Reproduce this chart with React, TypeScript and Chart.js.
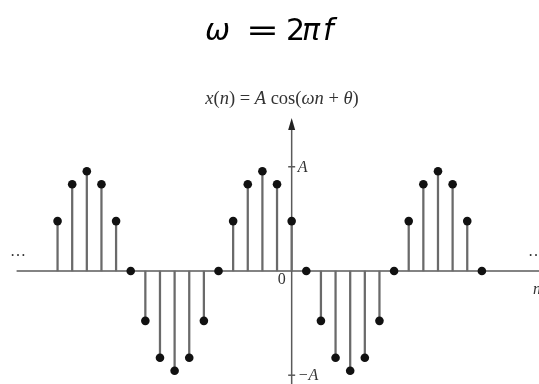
import React, { useEffect, useRef } from "react";
import { Chart, registerables } from "chart.js";

Chart.register(...registerables);

// sample index n
const samples = [-16, -15, -14, -13, -12, -11, -10, -9, -8, -7, -6, -5, -4, -3, -2, -1, 0, 1, 2, 3, 4, 5, 6, 7, 8, 9, 10, 11, 12, 13];
// x(n) / A
const values = [0.5, 0.87, 1, 0.87, 0.5, 0, -0.5, -0.87, -1, -0.87, -0.5, 0, 0.5, 0.87, 1, 0.87, 0.5, 0, -0.5, -0.87, -1, -0.87, -0.5, 0, 0.5, 0.87, 1, 0.87, 0.5, 0];
// amplitude tick labels
const tickValues = [1.045, -1.045];
const tickLabels = ["A", "\u2212A"];
const originLabel = "0";
const axisLabel = "n";
const ellipsis = "\u2026";
const formulaPieces: [string, boolean][] = [
  ["x", true], ["(", false], ["n", true], [") = ", false], ["A", true], [" cos(", false],
  ["\u03c9", true], ["n", true], [" + ", false], ["\u03b8", true], [")", false],
];

const W = 539;
const H = 384;

function drawPieces(ctx: CanvasRenderingContext2D, pieces: [string, boolean][], family: string, size: number, cx: number, baseline: number) {
  const fontFor = (it: boolean) => `${it ? "italic " : ""}${size}px ${family}`;
  let total = 0;
  for (const [t, it] of pieces) {
    ctx.font = fontFor(it);
    total += ctx.measureText(t).width;
  }
  let x = cx - total / 2;
  ctx.textAlign = "left";
  ctx.textBaseline = "alphabetic";
  for (const [t, it] of pieces) {
    ctx.font = fontFor(it);
    ctx.fillText(t, x, baseline);
    x += ctx.measureText(t).width;
  }
}

function drawTitle(ctx: CanvasRenderingContext2D) {
  const fam = "'DejaVu Sans'";
  const size = 30;
  const base = 40;
  ctx.save();
  ctx.fillStyle = "#000";
  ctx.textAlign = "left";
  ctx.textBaseline = "alphabetic";
  ctx.font = `italic ${size}px ${fam}`;
  ctx.fillText("\u03c9", 205, base);
  // wide equals sign
  ctx.font = `${size}px ${fam}`;
  const ew = ctx.measureText("=").width;
  ctx.save();
  ctx.translate(246, base);
  ctx.scale(33 / ew, 1);
  ctx.fillText("=", 0, 0);
  ctx.restore();
  ctx.fillText("2", 286, base);
  ctx.font = `italic ${size}px ${fam}`;
  ctx.fillText("\u03c0", 302, base);
  ctx.fillText("f", 323, base);
  ctx.restore();
}

const stemPlugin = {
  id: "stemAxes",
  beforeDatasetsDraw(chart: any) {
    const ctx: CanvasRenderingContext2D = chart.ctx;
    const xs = chart.scales.x;
    const ys = chart.scales.y;
    const x0 = xs.getPixelForValue(0);
    const y0 = ys.getPixelForValue(0);
    ctx.save();
    ctx.strokeStyle = "#5a5a5a";
    ctx.lineWidth = 1.5;
    // horizontal axis
    ctx.beginPath();
    ctx.moveTo(xs.getPixelForValue(-18.8), y0);
    ctx.lineTo(W, y0);
    ctx.stroke();
    // vertical axis
    const tipY = ys.getPixelForValue(1.535);
    ctx.beginPath();
    ctx.moveTo(x0, H);
    ctx.lineTo(x0, tipY + 8);
    ctx.stroke();
    ctx.fillStyle = "#222";
    ctx.beginPath();
    ctx.moveTo(x0, tipY);
    ctx.lineTo(x0 - 3.5, tipY + 12);
    ctx.lineTo(x0 + 3.5, tipY + 12);
    ctx.closePath();
    ctx.fill();
    // ticks
    for (const v of tickValues) {
      const ty = ys.getPixelForValue(v);
      ctx.beginPath();
      ctx.moveTo(x0 - 3.5, ty);
      ctx.lineTo(x0 + 3.5, ty);
      ctx.stroke();
    }
    ctx.restore();
  },
  afterDraw(chart: any) {
    const ctx: CanvasRenderingContext2D = chart.ctx;
    const xs = chart.scales.x;
    const ys = chart.scales.y;
    const x0 = xs.getPixelForValue(0);
    const y0 = ys.getPixelForValue(0);
    drawTitle(ctx);
    ctx.save();
    // formula
    ctx.fillStyle = "#333";
    drawPieces(ctx, formulaPieces, "'Liberation Serif'", 18.5, 282, 104);
    // tick labels
    ctx.textBaseline = "middle";
    ctx.textAlign = "left";
    ctx.font = "italic 16px 'Liberation Serif'";
    tickLabels.forEach((lab, i) => {
      const ty = ys.getPixelForValue(tickValues[i]);
      ctx.fillText(lab, x0 + 6, ty + 1);
    });
    // origin
    ctx.font = "16px 'Liberation Serif'";
    ctx.textAlign = "center";
    ctx.fillText(originLabel, x0 - 10, y0 + 9);
    // ellipses
    ctx.textAlign = "left";
    ctx.fillText(ellipsis, 10, y0 - 19);
    ctx.fillText(ellipsis, 528, y0 - 19);
    // n label
    ctx.font = "italic 16px 'Liberation Serif'";
    ctx.fillText(axisLabel, 533, y0 + 19);
    ctx.restore();
  },
};

export default function App() {
  const ref = useRef<HTMLCanvasElement | null>(null);
  useEffect(() => {
    document.body.style.margin = "0";
    const canvas = ref.current;
    if (!canvas) return;
    const pts = samples.map((n, i) => ({ x: n, y: values[i] }));
    const chart = new Chart(canvas, {
      type: "bar",
      data: {
        datasets: [
          {
            type: "scatter",
            data: pts,
            backgroundColor: "#111",
            borderWidth: 0,
            pointRadius: 4.3,
            order: 0,
          } as any,
          {
            type: "bar",
            data: pts,
            backgroundColor: "#6a6a6a",
            barThickness: 1.6,
            grouped: false,
            order: 1,
          } as any,
        ],
      },
      options: {
        animation: false,
        responsive: false,
        layout: { padding: 0 },
        plugins: { legend: { display: false }, tooltip: { enabled: false }, title: { display: false } },
        scales: {
          x: { type: "linear", min: -19.64, max: 16.61, display: false, offset: false, grid: { display: false } },
          y: { type: "linear", min: -1.09, max: 2.674, display: false, grid: { display: false } },
        },
      },
      plugins: [stemPlugin],
    });
    return () => chart.destroy();
  }, []);
  return (
    <div style={{ position: "absolute", left: 0, top: 0, width: W, height: H, background: "#fff" }}>
      <canvas ref={ref} width={W} height={H} style={{ display: "block", width: W, height: H }} />
    </div>
  );
}
